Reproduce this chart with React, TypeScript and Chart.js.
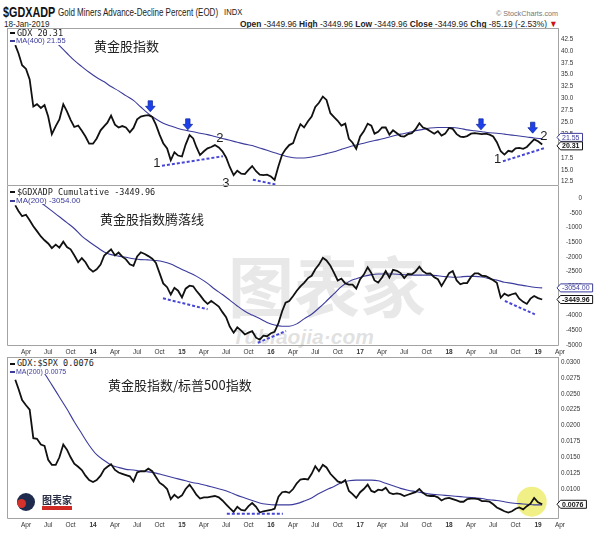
import React, { useEffect, useRef } from "react";
import { Chart, registerables } from "chart.js";

Chart.register(...registerables);

// ---------------- data ----------------
const dates: string[] = (
  "2013-02-16 2013-03-01 2013-03-16 2013-04-01 2013-04-16 2013-05-01 2013-05-16 2013-06-01 2013-06-16 2013-07-01 2013-07-16 2013-08-01 2013-08-16 2013-09-01 2013-09-16 2013-10-01 2013-10-16 2013-11-01 2013-11-16 2013-12-01 2013-12-16 " +
  "2014-01-01 2014-01-16 2014-02-01 2014-02-16 2014-03-01 2014-03-16 2014-04-01 2014-04-16 2014-05-01 2014-05-16 2014-06-01 2014-06-16 2014-07-01 2014-07-16 2014-08-01 2014-08-16 2014-09-01 2014-09-16 2014-10-01 2014-10-16 2014-11-01 2014-11-16 2014-12-01 2014-12-16 " +
  "2015-01-01 2015-01-16 2015-02-01 2015-02-16 2015-03-01 2015-03-16 2015-04-01 2015-04-16 2015-05-01 2015-05-16 2015-06-01 2015-06-16 2015-07-01 2015-07-16 2015-08-01 2015-08-16 2015-09-01 2015-09-16 2015-10-01 2015-10-16 2015-11-01 2015-11-16 2015-12-01 2015-12-16 " +
  "2016-01-01 2016-01-16 2016-02-01 2016-02-16 2016-03-01 2016-03-16 2016-04-01 2016-04-16 2016-05-01 2016-05-16 2016-06-01 2016-06-16 2016-07-01 2016-07-16 2016-08-01 2016-08-16 2016-09-01 2016-09-16 2016-10-01 2016-10-16 2016-11-01 2016-11-16 2016-12-01 2016-12-16 " +
  "2017-01-01 2017-01-16 2017-02-01 2017-02-16 2017-03-01 2017-03-16 2017-04-01 2017-04-16 2017-05-01 2017-05-16 2017-06-01 2017-06-16 2017-07-01 2017-07-16 2017-08-01 2017-08-16 2017-09-01 2017-09-16 2017-10-01 2017-10-16 2017-11-01 2017-11-16 2017-12-01 2017-12-16 " +
  "2018-01-01 2018-01-16 2018-02-01 2018-02-16 2018-03-01 2018-03-16 2018-04-01 2018-04-16 2018-05-01 2018-05-16 2018-06-01 2018-06-16 2018-07-01 2018-07-16 2018-08-01 2018-08-16 2018-09-01 2018-09-16 2018-10-01 2018-10-16 2018-11-01 2018-11-16 2018-12-01 2018-12-16 " +
  "2019-01-01 2019-01-18"
).split(" ");

// moving averages are read at every second date
const maDates: string[] = dates.filter((_, i) => i % 2 === 0);

const gdx: number[] = [
  41.2, 39.5, 37.0, 36.2, 34.0, 28.3, 28.8, 28.0, 28.6, 26.2,
  22.5, 24.2, 25.6, 28.8, 27.3, 25.5, 24.0, 24.3, 23.2, 22.0,
  20.5, 20.5, 21.6, 23.3, 24.2, 24.9, 26.4, 24.5, 23.9, 24.2,
  23.9, 22.9, 23.8, 25.6, 26.2, 26.4, 26.5, 26.1, 24.5, 22.4,
  20.6, 19.5, 17.0, 18.7, 18.0, 17.8, 20.3, 22.3, 21.6, 19.8,
  18.1, 18.9, 19.5, 19.8, 20.2, 19.7, 18.9, 17.6, 15.6, 13.9,
  14.8, 14.2, 14.1, 15.0, 15.8, 14.7, 14.0, 13.9, 14.0, 13.6,
  12.9, 15.8, 18.2, 19.3, 20.2, 20.6, 22.8, 24.6, 23.9, 25.2,
  26.2, 28.2, 29.1, 30.4, 29.7, 26.9, 26.1, 25.3, 24.3, 24.7,
  21.5, 20.7, 19.4, 22.0, 23.1, 24.7, 24.3, 22.6, 23.0, 23.9,
  23.9, 22.4, 23.3, 22.7, 22.1, 22.0, 22.5, 22.7, 23.5, 24.8,
  23.9, 23.6, 23.1, 22.6, 23.1, 22.2, 22.6, 23.8, 23.6, 22.5,
  22.0, 21.9, 22.1, 22.6, 22.7, 22.6, 22.5, 22.6, 22.4, 22.0,
  20.8, 18.9, 18.2, 19.0, 18.8, 19.5, 19.6, 19.4, 19.8, 20.6,
  21.4, 21.0, 20.31,
];
const gdxMA: (number | null)[] = [
  null, null, null, null, 44.2, 42.7, 41.1, 39.5, 38.0, 36.7,
  35.5, 34.4, 33.5, 32.5, 31.6, 30.6, 29.6, 28.2, 26.8, 25.7,
  24.8, 24.2, 23.7, 23.3, 23.0, 22.7, 22.4, 22.0, 21.6, 21.2,
  20.8, 20.4, 20.1, 19.6, 19.1, 18.6, 18.1, 17.7, 17.5, 17.5,
  17.7, 18.0, 18.4, 18.8, 19.3, 19.8, 20.2, 20.6, 21.0, 21.3,
  21.7, 22.1, 22.5, 22.8, 23.2, 23.5, 23.8, 23.9, 23.9, 23.9,
  23.7, 23.4, 23.2, 23.0, 22.8, 22.7, 22.5, 22.3, 22.1, 21.9,
  21.7, 21.55,
];

const adCum: number[] = [
  -240, -430, -610, -560, -750, -950, -1120, -1300, -1430, -1540,
  -1700, -1580, -1680, -1480, -1660, -1740, -1940, -2180, -2040, -2180,
  -2390, -2500, -2420, -2260, -1950, -1850, -1740, -1950, -1850, -1990,
  -2080, -2250, -2300, -1980, -1840, -1900, -1970, -2060, -2200, -2550,
  -2900, -3030, -3280, -3050, -3150, -3380, -3080, -2980, -3000, -3150,
  -3300, -3480, -3600, -3500, -3590, -3690, -3880, -4050, -4370, -4580,
  -4400, -4510, -4640, -4580, -4530, -4750, -4820, -4680, -4700, -4600,
  -4550, -4250, -3850, -3560, -3500, -3330, -3150, -3000, -2880, -2720,
  -2640, -2420, -2260, -2030, -2120, -2300, -2540, -2800, -2740, -2900,
  -2940, -2940, -3080, -2760, -2600, -2350, -2550, -2800, -2870, -2700,
  -2480, -2700, -2440, -2470, -2550, -2720, -2580, -2590, -2500, -2330,
  -2490, -2570, -2560, -2690, -2760, -2990, -2780, -2550, -2480, -2800,
  -2930, -2890, -2890, -2680, -2560, -2560, -2640, -2650, -2720, -2790,
  -2880, -3390, -3250, -3320, -3270, -3240, -3420, -3530, -3600, -3420,
  -3330, -3400, -3449.96,
];
const adCumMA: (number | null)[] = [
  null, null, null, -60, -240, -430, -630, -830, -1030, -1290,
  -1480, -1660, -1830, -1920, -1970, -2010, -2060, -2090, -2100, -2120,
  -2160, -2240, -2360, -2480, -2600, -2730, -2900, -3100, -3280, -3470,
  -3670, -3850, -3980, -4100, -4230, -4320, -4360, -4360, -4280, -4110,
  -3950, -3740, -3500, -3250, -3010, -2840, -2740, -2660, -2600, -2580,
  -2580, -2580, -2600, -2610, -2620, -2620, -2620, -2640, -2670, -2690,
  -2680, -2660, -2660, -2680, -2740, -2790, -2860, -2900, -2950, -2990,
  -3030, -3054,
];

const ratio: number[] = [
  0.0272, 0.0258, 0.0240, 0.0232, 0.0225, 0.0180, 0.0179, 0.0170, 0.0168, 0.0146,
  0.0138, 0.0138, 0.0150, 0.0170, 0.0162, 0.0150, 0.0140, 0.0135, 0.0130, 0.0121,
  0.0114, 0.0111, 0.0114, 0.0121, 0.0131, 0.0135, 0.0139, 0.0130, 0.0126, 0.0124,
  0.0122, 0.0120, 0.0112, 0.0126, 0.0128, 0.0128, 0.0132, 0.0128, 0.0119, 0.0110,
  0.0106, 0.0100, 0.0084, 0.0091, 0.0086, 0.0090, 0.0100, 0.0107, 0.0099, 0.0091,
  0.0085, 0.0087, 0.0087, 0.0088, 0.0089, 0.0087, 0.0082, 0.0076, 0.0070, 0.0064,
  0.0072, 0.0067, 0.0066, 0.0073, 0.0078, 0.0072, 0.0063, 0.0065, 0.0066, 0.0067,
  0.0069, 0.0088, 0.0095, 0.0096, 0.0094, 0.0100, 0.0109, 0.0115, 0.0116, 0.0115,
  0.0124, 0.0136, 0.0128, 0.0138, 0.0134, 0.0124, 0.0118, 0.0112, 0.0110, 0.0114,
  0.0097, 0.0092, 0.0086, 0.0095, 0.0100, 0.0107, 0.0097, 0.0095, 0.0099, 0.0098,
  0.0102, 0.0094, 0.0092, 0.0093, 0.0092, 0.0089, 0.0091, 0.0093, 0.0095, 0.0100,
  0.0094, 0.0090, 0.0089, 0.0089, 0.0087, 0.0082, 0.0085, 0.0086, 0.0084, 0.0082,
  0.0080, 0.0080, 0.0084, 0.0085, 0.0085, 0.0084, 0.0081, 0.0081, 0.0080, 0.0076,
  0.0071, 0.0068, 0.0065, 0.0063, 0.0065, 0.0069, 0.0071, 0.0068, 0.0073, 0.0077,
  0.0086, 0.0079, 0.0076,
];
const ratioMA: (number | null)[] = [
  null, null, null, 0.0298, 0.0282, 0.0264, 0.0245, 0.0226, 0.0206, 0.0187,
  0.0169, 0.0154, 0.0145, 0.0138, 0.0134, 0.0131, 0.0130, 0.0128, 0.0127, 0.0125,
  0.0122, 0.0119, 0.0116, 0.0113, 0.0110, 0.0108, 0.0105, 0.0102, 0.0099, 0.0095,
  0.0090, 0.0086, 0.0082, 0.0078, 0.0076, 0.0075, 0.0075, 0.0075, 0.0077, 0.0081,
  0.0086, 0.0093, 0.0099, 0.0104, 0.0110, 0.0113, 0.0114, 0.0114, 0.0114, 0.0113,
  0.0109, 0.0105, 0.0101, 0.0098, 0.0096, 0.0094, 0.0092, 0.0091, 0.0090, 0.0089,
  0.0088, 0.0087, 0.0086, 0.0085, 0.0083, 0.0082, 0.0080, 0.0078, 0.0077, 0.0076,
  0.0075, 0.0075,
];

// axis ticks
const xTickDates: string[] = [
  "2013-04-01", "2013-07-01", "2013-10-01",
  "2014-01-01", "2014-04-01", "2014-07-01", "2014-10-01",
  "2015-01-01", "2015-04-01", "2015-07-01", "2015-10-01",
  "2016-01-01", "2016-04-01", "2016-07-01", "2016-10-01",
  "2017-01-01", "2017-04-01", "2017-07-01", "2017-10-01",
  "2018-01-01", "2018-04-01", "2018-07-01", "2018-10-01",
  "2019-01-01", "2019-04-01",
];
const gdxTicks = [12.5, 15, 17.5, 20, 22.5, 25, 27.5, 30, 32.5, 35, 37.5, 40, 42.5];
const adTicks = [0, -500, -1000, -1500, -2000, -2500, -3000, -3500, -4000, -4500, -5000];
const ratioTicks = [0.0075, 0.01, 0.0125, 0.015, 0.0175, 0.02, 0.0225, 0.025, 0.0275, 0.03];

// annotations (panel 1)
const arrowDates = ["2014-08-24", "2015-01-25", "2018-05-12", "2018-12-10"];
const arrowValues = [27.2, 23.4, 23.4, 22.7];
const numTexts = ["1", "2", "3", "1", "2"];
const numDates = ["2014-09-20", "2015-06-05", "2015-06-30", "2018-07-19", "2019-01-25"];
const numValues = [16.4, 21.7, 12.2, 17.1, 22.1];
const dash1FromDates = ["2014-10-11", "2015-10-19", "2018-08-10"];
const dash1FromValues = [15.86, 12.92, 16.79];
const dash1ToDates = ["2015-06-18", "2016-01-25", "2019-01-29"];
const dash1ToValues = [17.84, 11.87, 19.6];
// annotations (panel 2)
const dash2FromDates = ["2014-10-15", "2015-11-08", "2018-08-18"];
const dash2FromValues = [-3408, -4922, -3500];
const dash2ToDates = ["2015-04-16", "2016-03-03", "2018-12-19"];
const dash2ToValues = [-3783, -4523, -3954];
// annotations (panel 3)
const dash3FromDates = ["2015-07-04"];
const dash3FromValues = [0.00611];
const dash3ToDates = ["2016-02-19"];
const dash3ToValues = [0.00611];
const circleDate = "2018-12-06";
const circleValue = 0.008;

// ---------------- styling ----------------
const LIB = "'Liberation Sans', Arial, sans-serif";
const MONO = "'DejaVu Sans Mono', monospace";
const CJK = "'Noto Sans CJK SC', sans-serif";
const MA_COLOR = "#3b3b9c";
const DASH_COLOR = "#4747d6";
const ARROW_COLOR = "#1d40ec";
const X_MIN = Date.UTC(2013, 0, 13);
const X_MAX = Date.UTC(2019, 2, 28);
const MONTHS = ["Jan", "Feb", "Mar", "Apr", "May", "Jun", "Jul", "Aug", "Sep", "Oct", "Nov", "Dec"];

function toMs(s: string) {
  const [y, m, d] = s.split("-").map(Number);
  return Date.UTC(y, m - 1, d);
}
function last<T>(a: T[]): T {
  return a[a.length - 1];
}

type Spec = {
  price: number[];
  ma: (number | null)[];
  yMin: number;
  yMax: number;
  yTicks: number[];
  fmt: (v: number) => string;
  showX: boolean;
  xHeight: number;
  padBottom: number;
  yAlign: "near" | "far";
  yPad: number;
  yWidth: number;
  padRight: number;
  drawTop: boolean;
  arrows?: [string[], number[]];
  nums?: [string[], string[], number[]];
  dashes?: [string[], number[], string[], number[]];
  circle?: [string, number];
  tags: { v: number; text: string; color: string; bold: boolean }[];
};

const panel1: Spec = {
  price: gdx, ma: gdxMA, yMin: 11.6, yMax: 44.81, yTicks: gdxTicks,
  fmt: (v) => v.toFixed(1), showX: false, xHeight: 0, padBottom: 8,
  yAlign: "near", yPad: 2, yWidth: 41, padRight: 0, drawTop: true,
  arrows: [arrowDates, arrowValues],
  nums: [numTexts, numDates, numValues],
  dashes: [dash1FromDates, dash1FromValues, dash1ToDates, dash1ToValues],
  tags: [
    { v: last(gdxMA) as number, text: (last(gdxMA) as number).toFixed(2), color: MA_COLOR, bold: false },
    { v: last(gdx), text: last(gdx).toFixed(2), color: "#111", bold: true },
  ],
};
const panel2: Spec = {
  price: adCum, ma: adCumMA, yMin: -5034, yMax: 419, yTicks: adTicks,
  fmt: (v) => String(v), showX: true, xHeight: 11, padBottom: 0,
  yAlign: "far", yPad: 2, yWidth: 23, padRight: 18, drawTop: false,
  dashes: [dash2FromDates, dash2FromValues, dash2ToDates, dash2ToValues],
  tags: [
    { v: last(adCumMA) as number, text: (last(adCumMA) as number).toFixed(2), color: MA_COLOR, bold: false },
    { v: last(adCum), text: last(adCum).toFixed(2), color: "#111", bold: true },
  ],
};
const panel3: Spec = {
  price: ratio, ma: ratioMA, yMin: 0.00528, yMax: 0.03079, yTicks: ratioTicks,
  fmt: (v) => v.toFixed(4), showX: true, xHeight: 13, padBottom: 0,
  yAlign: "near", yPad: 2, yWidth: 41, padRight: 0, drawTop: true,
  dashes: [dash3FromDates, dash3FromValues, dash3ToDates, dash3ToValues],
  circle: [circleDate, circleValue],
  tags: [{ v: last(ratio), text: last(ratio).toFixed(4), color: "#111", bold: true }],
};

function annPlugin(spec: Spec) {
  return {
    id: "annotations",
    beforeDatasetsDraw(chart: any) {
      if (!spec.circle) return;
      const { ctx } = chart;
      const xs = chart.scales.x, ys = chart.scales.y;
      ctx.save();
      ctx.fillStyle = "rgba(238,236,105,0.8)";
      ctx.beginPath();
      ctx.arc(xs.getPixelForValue(toMs(spec.circle[0])), ys.getPixelForValue(spec.circle[1]), 15, 0, Math.PI * 2);
      ctx.fill();
      ctx.restore();
    },
    afterDatasetsDraw(chart: any) {
      const { ctx } = chart;
      const xs = chart.scales.x, ys = chart.scales.y;
      if (spec.dashes) {
        const [fd, fv, td, tv] = spec.dashes;
        ctx.save();
        ctx.strokeStyle = DASH_COLOR;
        ctx.lineWidth = 2;
        ctx.setLineDash([3, 2]);
        fd.forEach((d, i) => {
          ctx.beginPath();
          ctx.moveTo(xs.getPixelForValue(toMs(d)), ys.getPixelForValue(fv[i]));
          ctx.lineTo(xs.getPixelForValue(toMs(td[i])), ys.getPixelForValue(tv[i]));
          ctx.stroke();
        });
        ctx.restore();
      }
      if (spec.arrows) {
        const [ad, av] = spec.arrows;
        ctx.save();
        ctx.fillStyle = ARROW_COLOR;
        ctx.strokeStyle = "#0d2596";
        ctx.lineWidth = 0.7;
        ad.forEach((d, i) => {
          const x = xs.getPixelForValue(toMs(d));
          const y = ys.getPixelForValue(av[i]);
          ctx.beginPath();
          ctx.moveTo(x - 2.2, y - 11);
          ctx.lineTo(x + 2.2, y - 11);
          ctx.lineTo(x + 2.2, y - 5.5);
          ctx.lineTo(x + 4.8, y - 5.5);
          ctx.lineTo(x, y);
          ctx.lineTo(x - 4.8, y - 5.5);
          ctx.lineTo(x - 2.2, y - 5.5);
          ctx.closePath();
          ctx.fill();
          ctx.stroke();
        });
        ctx.restore();
      }
      if (spec.nums) {
        const [nt, nd, nv] = spec.nums;
        ctx.save();
        ctx.fillStyle = "#1e1e1e";
        ctx.font = `13px ${LIB}`;
        ctx.textAlign = "center";
        ctx.textBaseline = "middle";
        nt.forEach((t, i) => {
          ctx.fillText(t, xs.getPixelForValue(toMs(nd[i])), ys.getPixelForValue(nv[i]));
        });
        ctx.restore();
      }
    },
    afterDraw(chart: any) {
      const { ctx, chartArea } = chart;
      const { left, right, top, bottom } = chartArea;
      const ys = chart.scales.y;
      ctx.save();
      ctx.strokeStyle = "#a3a3a3";
      ctx.lineWidth = 1;
      ctx.beginPath();
      if (spec.drawTop) {
        ctx.moveTo(left + 0.5, top + 0.5);
        ctx.lineTo(right - 0.5, top + 0.5);
      }
      ctx.moveTo(left + 0.5, top);
      ctx.lineTo(left + 0.5, bottom - 0.5);
      ctx.lineTo(right - 0.5, bottom - 0.5);
      ctx.lineTo(right - 0.5, top);
      ctx.stroke();
      // value tags on the price axis
      const tags = spec.tags.map((t) => ({ ...t, y: ys.getPixelForValue(t.v) })).sort((a, b) => a.y - b.y);
      for (let i = 1; i < tags.length; i++) {
        if (tags[i].y - tags[i - 1].y < 8.5) {
          const mid = (tags[i].y + tags[i - 1].y) / 2;
          tags[i - 1].y = mid - 4.25;
          tags[i].y = mid + 4.25;
        }
      }
      tags.forEach((t) => {
        ctx.font = `${t.bold ? "bold " : ""}7px ${LIB}`;
        const w = ctx.measureText(t.text).width;
        const x0 = right - 2;
        const x1 = x0 + w + 8;
        const y = t.y;
        ctx.beginPath();
        ctx.moveTo(x0, y);
        ctx.lineTo(x0 + 3.5, y - 4);
        ctx.lineTo(x1, y - 4);
        ctx.lineTo(x1, y + 4);
        ctx.lineTo(x0 + 3.5, y + 4);
        ctx.closePath();
        ctx.fillStyle = "#fff";
        ctx.fill();
        ctx.strokeStyle = t.color;
        ctx.stroke();
        ctx.fillStyle = t.color;
        ctx.textAlign = "left";
        ctx.textBaseline = "middle";
        ctx.fillText(t.text, x0 + 5, y + 0.5);
      });
      ctx.restore();
    },
  };
}

function makeChart(canvas: HTMLCanvasElement, spec: Spec) {
  const priceData = dates.map((d, i) => ({ x: toMs(d), y: spec.price[i] }));
  const maData = maDates
    .map((d, i) => ({ x: toMs(d), y: spec.ma[i] }))
    .filter((p) => p.y !== null);
  return new Chart(canvas, {
    type: "line",
    data: {
      datasets: [
        { data: priceData, borderColor: "#111", borderWidth: 1.8, pointRadius: 0, tension: 0 },
        { data: maData, borderColor: MA_COLOR, borderWidth: 1.1, pointRadius: 0, cubicInterpolationMode: "monotone" },
      ],
    } as any,
    options: {
      responsive: false,
      animation: false,
      events: [],
      layout: { padding: { left: 7, right: spec.padRight, top: 0, bottom: spec.padBottom } },
      plugins: { legend: { display: false }, tooltip: { enabled: false } },
      scales: {
        x: {
          type: "linear",
          min: X_MIN,
          max: X_MAX,
          display: spec.showX,
          grid: { display: false, drawTicks: false },
          border: { display: false },
          afterBuildTicks: (s: any) => {
            s.ticks = xTickDates.map((d) => ({ value: toMs(d), major: d.slice(5, 7) === "01" }));
          },
          afterFit: (s: any) => {
            s.height = spec.xHeight;
            s.paddingLeft = 0;
            s.paddingRight = 0;
          },
          ticks: {
            autoSkip: false,
            maxRotation: 0,
            minRotation: 0,
            padding: 2,
            color: "#333",
            font: (c: any) => ({ family: LIB, size: 6.5, weight: c.tick && c.tick.major ? "bold" : "normal" }),
            callback: (v: any) => {
              const d = new Date(Number(v));
              const m = d.getUTCMonth();
              return m === 0 ? String(d.getUTCFullYear()).slice(2) : MONTHS[m];
            },
          },
        },
        y: {
          type: "linear",
          position: "right",
          min: spec.yMin,
          max: spec.yMax,
          grid: { display: false, drawTicks: false },
          border: { display: false },
          afterBuildTicks: (s: any) => {
            s.ticks = spec.yTicks.map((v) => ({ value: v }));
          },
          afterFit: (s: any) => {
            s.width = spec.yWidth;
            s.paddingTop = 0;
            s.paddingBottom = 0;
          },
          ticks: {
            autoSkip: false,
            padding: spec.yPad,
            crossAlign: spec.yAlign,
            color: "#333",
            font: { family: LIB, size: 6.3 },
            callback: (v: any) => spec.fmt(Number(v)),
          },
        },
      },
    } as any,
    plugins: [annPlugin(spec) as any],
  });
}

// ---------------- html helpers ----------------
function T(props: {
  x: number; y: number; size: number; family?: string; color?: string; weight?: string;
  sx?: number; right?: boolean; italic?: boolean; children: React.ReactNode;
}) {
  const { x, y, size, family = LIB, color = "#222", weight = "normal", sx = 1, right = false, italic = false } = props;
  const style: React.CSSProperties = {
    position: "absolute",
    top: y,
    fontSize: size,
    fontFamily: family,
    color,
    fontWeight: weight as any,
    fontStyle: italic ? "italic" : "normal",
    lineHeight: `${size}px`,
    whiteSpace: "nowrap",
    transform: `scaleX(${sx})`,
    transformOrigin: right ? "right top" : "left top",
  };
  if (right) style.right = 600 - x;
  else style.left = x;
  return <div style={style}>{props.children}</div>;
}

function Bar({ x, y, color }: { x: number; y: number; color: string }) {
  return <div style={{ position: "absolute", left: x, top: y, width: 5, height: 2, background: color }} />;
}

export default function App() {
  const r1 = useRef<HTMLCanvasElement>(null);
  const r2 = useRef<HTMLCanvasElement>(null);
  const r3 = useRef<HTMLCanvasElement>(null);

  useEffect(() => {
    const charts = [
      makeChart(r1.current!, panel1),
      makeChart(r2.current!, panel2),
      makeChart(r3.current!, panel3),
    ];
    return () => charts.forEach((c) => c.destroy());
  }, []);

  const cv = (top: number): React.CSSProperties => ({ position: "absolute", left: 0, top, width: 600 });

  return (
    <div style={{ position: "absolute", left: 0, top: 0, width: 600, height: 537, background: "#fff", overflow: "hidden" }}>
      {/* header */}
      <T x={3} y={4} size={15} weight="bold" sx={0.72} color="#111">$GDXADP</T>
      <T x={58} y={7.5} size={10} sx={0.8} color="#222">Gold Miners Advance-Decline Percent (EOD)</T>
      <T x={224} y={8} size={9} sx={0.85} color="#222">INDX</T>
      <T x={558} y={10} size={8} sx={0.9} color="#777" right>© StockCharts.com</T>
      <T x={4} y={20} size={9} sx={0.9} color="#222">18-Jan-2019</T>
      <T x={558} y={20} size={9} sx={0.93} color="#222" right>
        <b>Open</b> -3449.96 <b>High</b> -3449.96 <b>Low</b> -3449.96 <b>Close</b> -3449.96 <b>Chg</b> -85.19 (-2.53%)
        <span style={{ color: "#cc1111" }}> ▼</span>
      </T>

      {/* watermark behind the middle panel */}
      <T x={228} y={250} size={66} family={CJK} weight="bold" color="rgba(150,150,150,0.22)">图表家</T>
      <T x={232} y={326} size={21} weight="bold" italic color="rgba(150,150,150,0.3)">Tubiaojia·com</T>

      <canvas ref={r1} width={600} height={166} style={cv(28)} />
      <canvas ref={r2} width={600} height={171} style={cv(186)} />
      <canvas ref={r3} width={600} height={175} style={cv(357)} />

      {/* panel 1 legend */}
      <div style={{ position: "absolute", left: 8, top: 29, width: 62, height: 16, background: "#fff" }} />
      <Bar x={10} y={32} color="#111" />
      <T x={17} y={28.5} size={8.5} family={MONO} color="#222">GDX {last(gdx).toFixed(2)}</T>
      <Bar x={10} y={40} color={MA_COLOR} />
      <T x={16} y={37} size={7.5} color={MA_COLOR}>MA(400) {(last(gdxMA) as number).toFixed(2)}</T>
      <T x={94} y={39} size={13} family={CJK} color="#222">黄金股指数</T>

      {/* panel 2 legend */}
      <div style={{ position: "absolute", left: 8, top: 187, width: 145, height: 17, background: "#fff" }} />
      <Bar x={10} y={191} color="#111" />
      <T x={17} y={187.5} size={8.5} family={MONO} color="#222">$GDXADP Cumulative {last(adCum).toFixed(2)}</T>
      <Bar x={10} y={200} color={MA_COLOR} />
      <T x={16} y={197} size={8} color={MA_COLOR}>MA(200) {(last(adCumMA) as number).toFixed(2)}</T>
      <T x={100} y={212} size={13} family={CJK} color="#222">黄金股指数腾落线</T>

      {/* panel 3 legend */}
      <div style={{ position: "absolute", left: 8, top: 358, width: 90, height: 16, background: "#fff" }} />
      <Bar x={10} y={362.5} color="#111" />
      <T x={17} y={359} size={8.5} family={MONO} color="#222">GDX:$SPX {last(ratio).toFixed(4)}</T>
      <Bar x={10} y={370.5} color={MA_COLOR} />
      <T x={16} y={367.5} size={7} color={MA_COLOR}>MA(200) {(last(ratioMA) as number).toFixed(4)}</T>
      <T x={108} y={378} size={13} family={CJK} color="#222">黄金股指数/标普500指数</T>

      {/* small logo in panel 3 */}
      <div style={{ position: "absolute", left: 17, top: 493, width: 18, height: 18, borderRadius: 9, background: "#1f2b4d", overflow: "hidden" }}>
        <div style={{ position: "absolute", left: 0, top: 6, width: 9, height: 9, borderRadius: 5, background: "#d6322c" }} />
      </div>
      <T x={42} y={495} size={10} family={CJK} weight="bold" color="#2a2f45">图表家</T>
      <div style={{ position: "absolute", left: 42, top: 506, width: 30, height: 4, background: "#d02a24" }} />
    </div>
  );
}
